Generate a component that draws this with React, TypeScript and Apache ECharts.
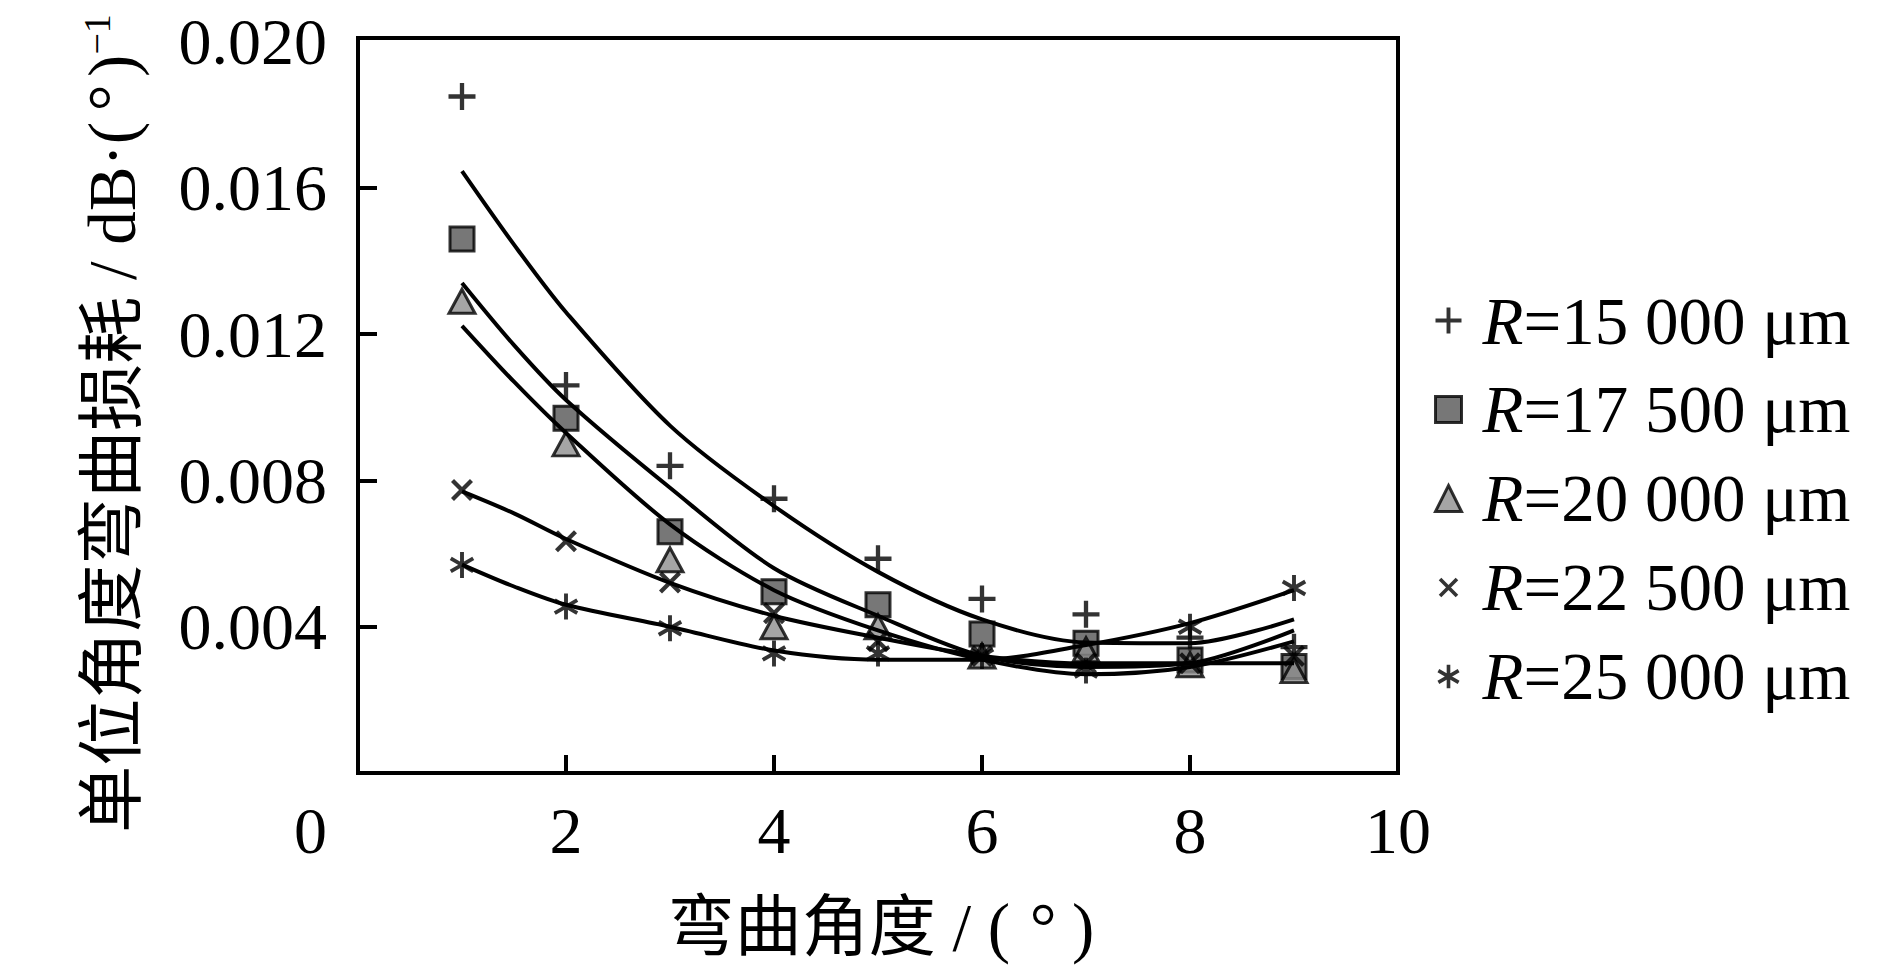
import React, { useEffect, useRef } from 'react';
import * as echarts from 'echarts';

// ---- data ----
const bendAngles = [1, 2, 3, 4, 5, 6, 7, 8, 9];
const seriesNames = ['R=15 000 μm', 'R=17 500 μm', 'R=20 000 μm', 'R=22 500 μm', 'R=25 000 μm'];

const loss15000 = [0.0185, 0.0106, 0.0084, 0.0075, 0.00586, 0.00476, 0.00434, 0.0037, 0.00344];
const loss17500 = [0.0146, 0.0097, 0.0066, 0.00496, 0.0046, 0.0038, 0.00355, 0.00309, 0.00291];
const loss20000 = [0.0129, 0.009, 0.00583, 0.004, 0.004, 0.0032, 0.00337, 0.00296, 0.0028];
const loss22500 = [0.00774, 0.00634, 0.00521, 0.00437, 0.0036, 0.0032, 0.003, 0.003, 0.0032];
const loss25000 = [0.00569, 0.00455, 0.00396, 0.00327, 0.00327, 0.0032, 0.0028, 0.004, 0.00506];

// fitted curves
const fitAngles = [1, 1.5, 2, 3, 4, 5, 6, 7, 8, 9];
const fit15000 = [0.01646, 0.01445, 0.0126, 0.0095, 0.0073, 0.0055, 0.0042, 0.00357, 0.00355, 0.0042];
const fit17500 = [0.0134, 0.0117, 0.0102, 0.0078, 0.0056, 0.0043, 0.0032, 0.0029, 0.003, 0.0039];
const fit20000 = [0.01223, 0.0107, 0.0093, 0.0068, 0.005, 0.0039, 0.0031, 0.0027, 0.0029, 0.0036];
const fit22500 = [0.0077, 0.0071, 0.0064, 0.0052, 0.0043, 0.0037, 0.0032, 0.003, 0.003, 0.003];
const fit25000 = [0.0057, 0.0051, 0.0046, 0.004, 0.00335, 0.0031, 0.0031, 0.0035, 0.0041, 0.005];

const xTickValues = [2, 4, 6, 8];
const xLabelValues = [2, 4, 6, 8, 10];
const yTickValues = [0.004, 0.008, 0.012, 0.016];
const yLabelValues = [0, 0.004, 0.008, 0.012, 0.016, 0.02];

const FONT = "'Liberation Serif', 'Times New Roman', 'Noto Sans CJK SC', serif";

// ---- marker shapes (filled bars, in a 20x20 box) ----
function bar(cx: number, cy: number, angDeg: number, L: number, h: number) {
  const a = (angDeg * Math.PI) / 180;
  const ux = Math.cos(a);
  const uy = Math.sin(a);
  const px = -uy;
  const py = ux;
  const pts = [
    [cx + L * ux + h * px, cy + L * uy + h * py],
    [cx - L * ux + h * px, cy - L * uy + h * py],
    [cx - L * ux - h * px, cy - L * uy - h * py],
    [cx + L * ux - h * px, cy + L * uy - h * py],
  ];
  return 'M' + pts.map((p) => p[0].toFixed(2) + ',' + p[1].toFixed(2)).join('L') + 'Z';
}
const FRAME = 'M0,0M20,20';
const PLUS = 'path://' + bar(10, 10, 0, 10, 1.6) + bar(10, 10, 90, 10, 1.6);
const CROSS = 'path://' + bar(10, 10, 45, 12, 1.9) + bar(10, 10, 135, 12, 1.9);
const STAR = 'path://' + bar(10, 10, 90, 10, 1.5) + bar(10, 10, 30, 10, 1.5) + bar(10, 10, 150, 10, 1.5);
const PLUS_ICON = 'path://' + FRAME + bar(10, 10, 0, 10, 1.5) + bar(10, 10, 90, 10, 1.5);
const CROSS_ICON = 'path://' + FRAME + bar(10, 10, 45, 9.2, 1.4) + bar(10, 10, 135, 9.2, 1.4);
const STAR_ICON =
  'path://' + FRAME + bar(10, 10, 90, 9, 1.4) + bar(10, 10, 30, 9, 1.4) + bar(10, 10, 150, 9, 1.4);

const solidStyle = { color: '#000', borderWidth: 0 };
const squareStyle = { color: '#555555', borderColor: '#000', borderWidth: 3 };
const triStyle = { color: '#8e8e8e', borderColor: '#000', borderWidth: 3 };

function pairs(xs: number[], ys: number[]) {
  return xs.map((x, i) => [x, ys[i]]);
}

function buildOption() {
  const scatterDefs = [
    { name: seriesNames[0], data: loss15000, symbol: PLUS, size: 27, style: solidStyle, icon: PLUS_ICON },
    { name: seriesNames[1], data: loss17500, symbol: 'rect', size: 24, style: squareStyle, icon: 'rect' },
    { name: seriesNames[2], data: loss20000, symbol: 'triangle', size: [26, 24], style: triStyle, icon: 'triangle' },
    { name: seriesNames[3], data: loss22500, symbol: CROSS, size: 22, style: solidStyle, icon: CROSS_ICON },
    { name: seriesNames[4], data: loss25000, symbol: STAR, size: 26, style: solidStyle, icon: STAR_ICON },
  ];
  const fits = [fit15000, fit17500, fit20000, fit22500, fit25000];

  const series: any[] = [];
  scatterDefs.forEach((d) => {
    series.push({
      type: 'scatter',
      name: d.name,
      data: pairs(bendAngles, d.data),
      symbol: d.symbol,
      symbolSize: d.size,
      symbolKeepAspect: true,
      itemStyle: d.style,
      z: 2,
      silent: true,
    });
  });
  fits.forEach((f, i) => {
    series.push({
      type: 'line',
      name: 'fit ' + seriesNames[i],
      data: pairs(fitAngles, f),
      showSymbol: false,
      symbol: 'none',
      smooth: 0.3,
      lineStyle: { color: '#000', width: 4 },
      z: 3,
      silent: true,
    });
  });

  return {
    animation: false,
    backgroundColor: '#fff',
    grid: {
      left: 358,
      right: 492,
      top: 38,
      bottom: 196,
      show: true,
      borderColor: '#000',
      borderWidth: 4,
      backgroundColor: 'rgba(0,0,0,0)',
      containLabel: false,
      outerBoundsMode: 'none',
    },
    legend: {
      orient: 'vertical',
      left: 1429,
      top: 282,
      itemWidth: 26,
      itemHeight: 26,
      itemGap: 22,
      selectedMode: false,
      data: scatterDefs.map((d) => ({ name: d.name, icon: d.icon, itemStyle: d.style })),
      formatter: (name: string) => `{i|R}{n|${name.slice(1)}}`,
      textStyle: {
        color: '#000',
        fontFamily: FONT,
        fontSize: 67,
        lineHeight: 66,
        padding: [0, 0, 0, 16],
        rich: {
          i: { fontFamily: FONT, fontSize: 67, lineHeight: 66, fontStyle: 'italic', color: '#000' },
          n: { fontFamily: FONT, fontSize: 67, lineHeight: 66, color: '#000' },
        },
      },
    },
    xAxis: {
      type: 'value',
      min: 0,
      max: 10,
      interval: 2,
      axisLine: { show: false },
      splitLine: { show: false },
      axisTick: {
        inside: true,
        length: 18,
        lineStyle: { color: '#000', width: 4 },
        customValues: xTickValues,
      },
      axisLabel: {
        customValues: xLabelValues,
        margin: 24,
        color: '#000',
        fontFamily: FONT,
        fontSize: 66,
      },
      name: '{t|弯曲角度 / (}{d|°}{t|)}',
      nameLocation: 'middle',
      nameGap: 120,
      nameTextStyle: {
        color: '#000',
        fontFamily: FONT,
        fontSize: 67,
        padding: [0, 0, 0, 6],
        rich: {
          t: { fontFamily: FONT, fontSize: 67, color: '#000' },
          d: { fontFamily: FONT, fontSize: 67, color: '#000', width: 58, align: 'left', padding: [0, 0, 0, 4] },
        },
      },
    },
    yAxis: {
      type: 'value',
      min: 0,
      max: 0.0201,
      interval: 0.004,
      axisLine: { show: false },
      splitLine: { show: false },
      axisTick: {
        inside: true,
        length: 19,
        lineStyle: { color: '#000', width: 4 },
        customValues: yTickValues,
      },
      axisLabel: {
        customValues: yLabelValues,
        margin: 31,
        color: '#000',
        fontFamily: FONT,
        fontSize: 66,
        formatter: (v: number) => (v === 0 ? '{z|0}' : v.toFixed(3)),
        rich: {
          z: { padding: [114, 0, 0, 0], fontFamily: FONT, fontSize: 66, color: '#000' },
        },
      },
      name: '{a|单位角度弯曲损耗 / dB·(}{d|°}{a|)}{s|−1}',
      nameLocation: 'middle',
      nameRotate: 90,
      nameGap: 213,
      nameTextStyle: {
        color: '#000',
        fontFamily: FONT,
        fontSize: 67,
        lineHeight: 67,
        padding: [0, 36, 0, 0],
        rich: {
          a: { fontFamily: FONT, fontSize: 67, lineHeight: 67, color: '#000' },
          d: { fontFamily: FONT, fontSize: 67, lineHeight: 67, color: '#000', width: 42, align: 'left', padding: [0, 0, 0, 3] },
          s: { fontFamily: FONT, fontSize: 38, lineHeight: 38, verticalAlign: 'top', color: '#000' },
        },
      },
    },
    series,
  };
}

export default function App() {
  const ref = useRef<HTMLDivElement>(null);
  useEffect(() => {
    if (!ref.current) return;
    const chart = echarts.init(ref.current, undefined, { renderer: 'svg' });
    chart.setOption(buildOption() as any);
    return () => chart.dispose();
  }, []);
  return (
    <div
      ref={ref}
      style={{ position: 'fixed', left: 0, top: 0, width: 1890, height: 969, background: '#fff' }}
    />
  );
}
